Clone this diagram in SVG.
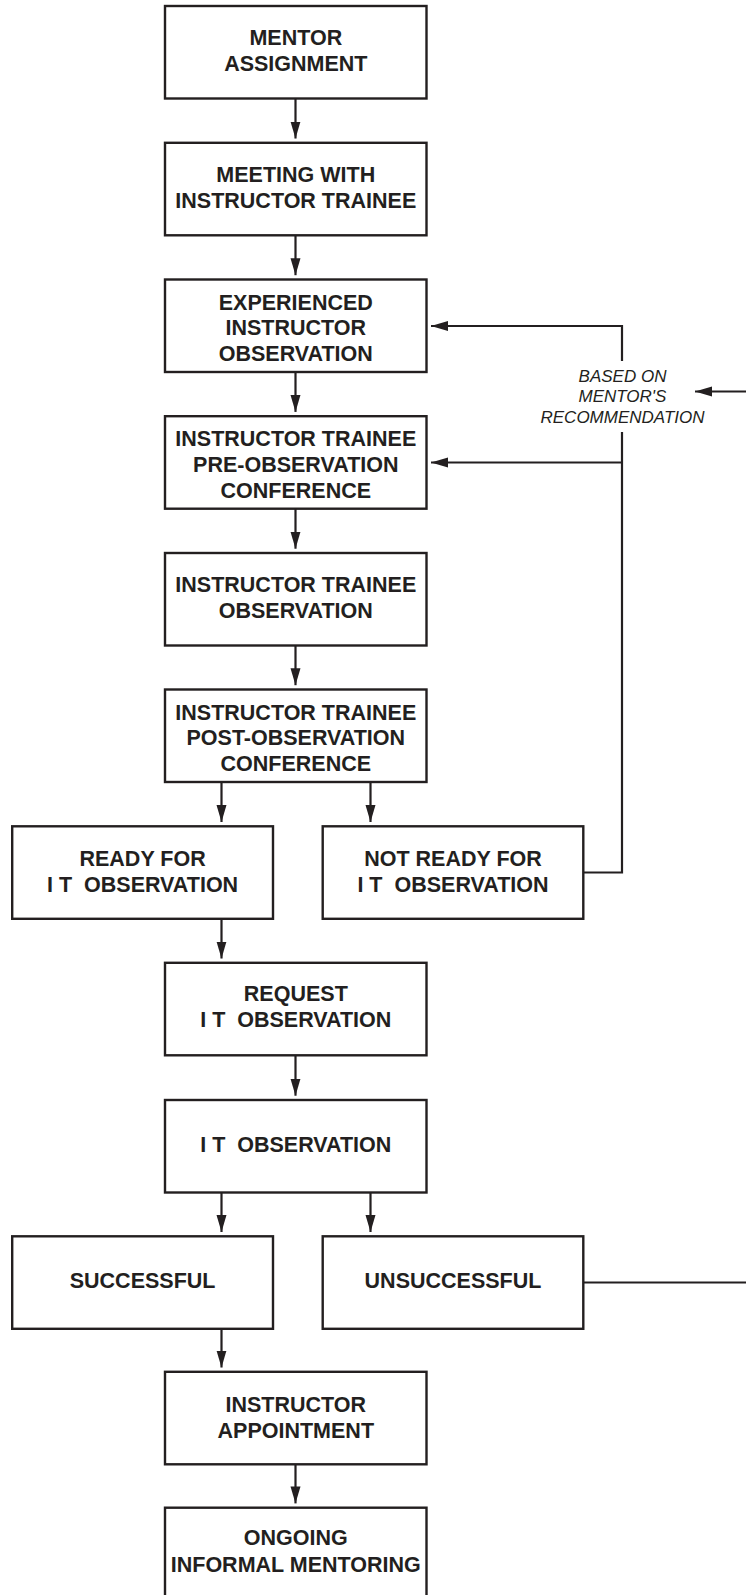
<svg xmlns="http://www.w3.org/2000/svg" width="746" height="1595" viewBox="0 0 746 1595">
<style>
.box{fill:#fff;stroke:#231f20;stroke-width:2.4}
.t{font-family:"Liberation Sans",Arial,sans-serif;font-weight:bold;font-size:21.5px;fill:#231f20;text-anchor:middle}
.n{font-family:"Liberation Sans",Arial,sans-serif;font-style:italic;font-size:17px;fill:#231f20;text-anchor:middle}
.c{fill:none;stroke:#231f20;stroke-width:2.2}
</style>
<defs>
<marker id="ah" markerUnits="userSpaceOnUse" markerWidth="17" markerHeight="11" refX="17" refY="5" orient="auto">
<path d="M0,0 L17,5 L0,10 z" fill="#231f20"/>
</marker>
</defs>
<g id="connectors">
<line class="c" x1="295.5" y1="98.5" x2="295.5" y2="138.5" marker-end="url(#ah)"/>
<line class="c" x1="295.5" y1="235.3" x2="295.5" y2="275.2" marker-end="url(#ah)"/>
<line class="c" x1="295.5" y1="372" x2="295.5" y2="411.9" marker-end="url(#ah)"/>
<line class="c" x1="295.5" y1="508.7" x2="295.5" y2="548.7" marker-end="url(#ah)"/>
<line class="c" x1="295.5" y1="645.5" x2="295.5" y2="685.2" marker-end="url(#ah)"/>
<line class="c" x1="221.5" y1="782" x2="221.5" y2="822" marker-end="url(#ah)"/>
<line class="c" x1="370.5" y1="782" x2="370.5" y2="822" marker-end="url(#ah)"/>
<line class="c" x1="221.5" y1="918.8" x2="221.5" y2="958.5" marker-end="url(#ah)"/>
<line class="c" x1="295.5" y1="1055.3" x2="295.5" y2="1095.7" marker-end="url(#ah)"/>
<line class="c" x1="221.5" y1="1192.5" x2="221.5" y2="1232" marker-end="url(#ah)"/>
<line class="c" x1="370.5" y1="1192.5" x2="370.5" y2="1232" marker-end="url(#ah)"/>
<line class="c" x1="221.5" y1="1328.8" x2="221.5" y2="1367.5" marker-end="url(#ah)"/>
<line class="c" x1="295.5" y1="1464.3" x2="295.5" y2="1503.4" marker-end="url(#ah)"/>
<polyline class="c" points="583.3,872.5 622,872.5 622,432"/>
<polyline class="c" points="622,361 622,326 431,326" marker-end="url(#ah)"/>
<line class="c" x1="622" y1="462.5" x2="431" y2="462.5" marker-end="url(#ah)"/>
<line class="c" x1="746" y1="391.5" x2="695" y2="391.5" marker-end="url(#ah)"/>
<line class="c" x1="583.3" y1="1282.5" x2="746" y2="1282.5"/>
<text class="n" x="622.5" y="381.5">BASED ON</text>
<text class="n" x="622.5" y="401.5">MENTOR'S</text>
<text class="n" x="622.5" y="422.5">RECOMMENDATION</text>
</g>
<g id="n1"><rect class="box" x="165" y="6" width="261.5" height="92.5"/><text class="t" x="295.8" y="45">MENTOR</text><text class="t" x="295.8" y="70.5">ASSIGNMENT</text></g>
<g id="n2"><rect class="box" x="165" y="142.8" width="261.5" height="92.5"/><text class="t" x="295.8" y="182.3">MEETING WITH</text><text class="t" x="295.8" y="208.3">INSTRUCTOR TRAINEE</text></g>
<g id="n3"><rect class="box" x="165" y="279.5" width="261.5" height="92.5"/><text class="t" x="295.8" y="309.5">EXPERIENCED</text><text class="t" x="295.8" y="335.3">INSTRUCTOR</text><text class="t" x="295.8" y="361.1">OBSERVATION</text></g>
<g id="n4"><rect class="box" x="165" y="416.2" width="261.5" height="92.5"/><text class="t" x="295.8" y="446.2">INSTRUCTOR TRAINEE</text><text class="t" x="295.8" y="472">PRE-OBSERVATION</text><text class="t" x="295.8" y="497.8">CONFERENCE</text></g>
<g id="n5"><rect class="box" x="165" y="553" width="261.5" height="92.5"/><text class="t" x="295.8" y="592">INSTRUCTOR TRAINEE</text><text class="t" x="295.8" y="618">OBSERVATION</text></g>
<g id="n6"><rect class="box" x="165" y="689.5" width="261.5" height="92.5"/><text class="t" x="295.8" y="719.5">INSTRUCTOR TRAINEE</text><text class="t" x="295.8" y="745.3">POST-OBSERVATION</text><text class="t" x="295.8" y="771.1">CONFERENCE</text></g>
<g id="n7"><rect class="box" x="12.2" y="826.3" width="260.8" height="92.5"/><text class="t" x="142.6" y="865.5">READY FOR</text><text class="t" x="142.6" y="891.5" xml:space="preserve">I T  OBSERVATION</text></g>
<g id="n8"><rect class="box" x="322.7" y="826.3" width="260.6" height="92.5"/><text class="t" x="453" y="865.5">NOT READY FOR</text><text class="t" x="453" y="891.5" xml:space="preserve">I T  OBSERVATION</text></g>
<g id="n9"><rect class="box" x="165" y="962.8" width="261.5" height="92.5"/><text class="t" x="295.8" y="1000.8">REQUEST</text><text class="t" x="295.8" y="1026.8" xml:space="preserve">I T  OBSERVATION</text></g>
<g id="n10"><rect class="box" x="165" y="1100" width="261.5" height="92.5"/><text class="t" x="295.8" y="1151.7" xml:space="preserve">I T  OBSERVATION</text></g>
<g id="n11"><rect class="box" x="12.2" y="1236.3" width="260.8" height="92.5"/><text class="t" x="142.6" y="1287.5">SUCCESSFUL</text></g>
<g id="n12"><rect class="box" x="322.7" y="1236.3" width="260.6" height="92.5"/><text class="t" x="453" y="1287.5">UNSUCCESSFUL</text></g>
<g id="n13"><rect class="box" x="165" y="1371.8" width="261.5" height="92.5"/><text class="t" x="295.8" y="1411.7">INSTRUCTOR</text><text class="t" x="295.8" y="1437.7">APPOINTMENT</text></g>
<g id="n14"><rect class="box" x="165" y="1507.7" width="261.5" height="92.5"/><text class="t" x="295.8" y="1544.5">ONGOING</text><text class="t" x="295.8" y="1571.5">INFORMAL MENTORING</text></g>
</svg>
